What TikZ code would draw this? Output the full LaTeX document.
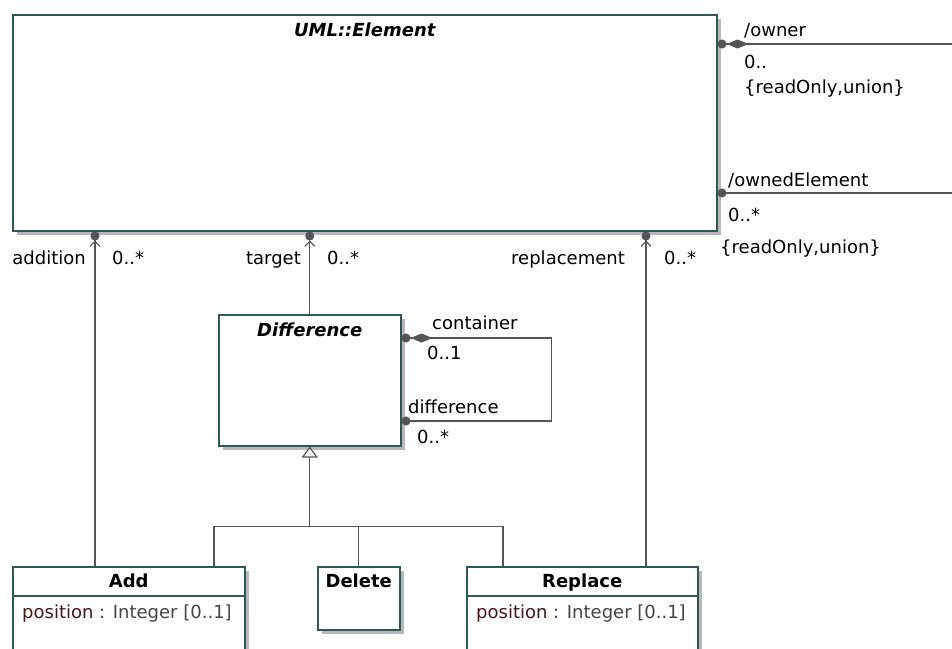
\documentclass[tikz,border=0pt]{standalone}
\usepackage{fontspec}
\setmainfont{DejaVu Sans}
\usetikzlibrary{arrows.meta,shadows,positioning}
\definecolor{umlframe}{HTML}{2B5959}
\definecolor{umlline}{HTML}{555555}
\definecolor{attrname}{HTML}{4A1414}
\definecolor{attrtype}{HTML}{454545}
\tikzset{
	cls/.style 2 args={draw=umlframe,line width=1.5pt,fill=white,anchor=north west,
		minimum width=#1,minimum height=#2,inner sep=0pt,
		general shadow={fill=black!28,shadow xshift=4pt,shadow yshift=-4pt}},
	txt/.style={font=\fontsize{18}{22}\selectfont,inner sep=0pt,text height=15pt,text depth=2pt},
	role/.style={txt,anchor=west},
	abstitle/.style={txt,font=\fontsize{18}{22}\selectfont\bfseries\itshape},
	clstitle/.style={txt,font=\fontsize{18}{22}\selectfont\bfseries},
	assoc/.style={draw=umlline,line width=1.2pt},
	nav/.style={assoc,-{Straight Barb[length=5pt,width=10pt]Circle[length=9pt,width=9pt]}},
	gen/.style={assoc,-{Triangle[open,fill=white,length=11pt,width=16pt]}}
}
\begin{document}
\begin{tikzpicture}[x=1pt,y=-1pt]
	\useasboundingbox (0,0) rectangle (952,648);

	% classes
	\node [cls={704pt}{216pt}] (element) at (12,14) {};
	\node [abstitle] (elementname) at ([yshift=-16pt]element.north) {UML::Element};

	\node [cls={182pt}{131pt}] (difference) at (218,314) {};
	\node [abstitle] (differencename) at ([yshift=-16pt]difference.north) {Difference};

	\node [cls={232pt}{100pt}] (add) at (12,566) {};
	\node [clstitle] (addname) at ([yshift=-15pt]add.north) {Add};
	\draw [draw=umlframe,line width=1.5pt] ([yshift=-30pt]add.north west) -- ([yshift=-30pt]add.north east);
	\node [role] (addattr) at ([xshift=10pt,yshift=-46pt]add.north west)
		{\textcolor{attrname}{position}\textcolor{attrtype}{\ : Integer [0..1]}};

	\node [cls={82pt}{63pt}] (delete) at (317,566) {};
	\node [clstitle] (deletename) at ([yshift=-15pt]delete.north) {Delete};

	\node [cls={231pt}{100pt}] (replace) at (466,566) {};
	\node [clstitle] (replacename) at ([yshift=-15pt]replace.north) {Replace};
	\draw [draw=umlframe,line width=1.5pt] ([yshift=-30pt]replace.north west) -- ([yshift=-30pt]replace.north east);
	\node [role] (replaceattr) at ([xshift=10pt,yshift=-46pt]replace.north west)
		{\textcolor{attrname}{position}\textcolor{attrtype}{\ : Integer [0..1]}};

	% owner / ownedElement
	\coordinate (ownerend) at (952,44);
	\coordinate (ownedend) at (952,193);
	\draw [assoc,{Circle[length=9pt,width=9pt]Diamond[length=22pt,width=9pt]}-] (element.east |- ownerend) -- (ownerend);
	\draw [assoc,{Circle[length=9pt,width=9pt]}-] (element.east |- ownedend) -- (ownedend);
	\node [role] (ownerrole) at (744,30) {/owner};
	\node [role] (ownermult) at (744,62) {0..};
	\node [role] (ownerprop) at (744,87) {\{readOnly,union\}};
	\node [role] (ownedrole) at (728,180) {/ownedElement};
	\node [role] (ownedmult) at (728,215) {0..*};
	\node [role] (ownedprop) at (720,247) {\{readOnly,union\}};

	% navigable ends
	\path (add.north west) ++(83,0) coordinate (addfoot);
	\path (replace.north west) ++(180,0) coordinate (replacefoot);
	\draw [nav] (addfoot) -- (addfoot |- element.south);
	\draw [nav] (difference.north) -- (difference.north |- element.south);
	\draw [nav] (replacefoot) -- (replacefoot |- element.south);
	\node [txt,anchor=east] (additionrole) at (86,258) {addition};
	\node [role] (additionmult) at (112,258) {0..*};
	\node [txt,anchor=east] (targetrole) at (301,258) {target};
	\node [role] (targetmult) at (327,258) {0..*};
	\node [txt,anchor=east] (replacementrole) at (625,258) {replacement};
	\node [role] (replacementmult) at (664,258) {0..*};

	% container / difference
	\path (difference.north east) ++(0,24) coordinate (containerstart) ++(0,83) coordinate (differenceend);
	\draw [assoc,{Circle[length=9pt,width=9pt]Diamond[length=22pt,width=9pt]}-{Circle[length=9pt,width=9pt]}]
		(containerstart) -- ++(150,0) |- (differenceend);
	\node [role] (containerrole) at (432,323) {container};
	\node [role] (containermult) at (427,353) {0..1};
	\node [role] (differencerole) at (408,407) {difference};
	\node [role] (differencemult) at (417,437) {0..*};

	% generalization
	\path (difference.south) ++(0,80) coordinate (genjoin);
	\path (add.north west) ++(202,0) coordinate (addgen);
	\path (replace.north west) ++(37,0) coordinate (replacegen);
	\draw [gen] (genjoin) -- (difference.south);
	\draw [assoc] (addgen) |- (genjoin) -| (replacegen);
	\draw [assoc] (delete.north) -- (delete.north |- genjoin);
\end{tikzpicture}
\end{document}
